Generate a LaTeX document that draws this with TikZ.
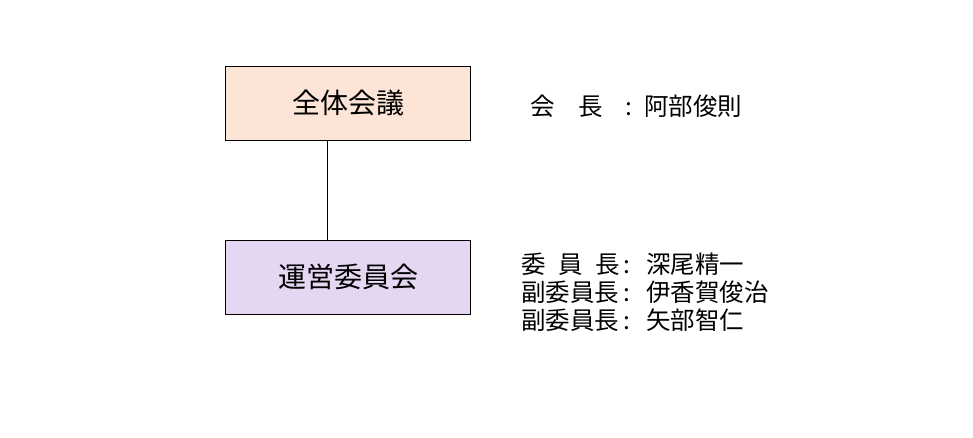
\documentclass[tikz,border=0pt]{standalone}
\usepackage{fontspec}
\setmainfont{Noto Sans CJK JP}
\usepackage{tikz}
\usetikzlibrary{positioning}
\definecolor{peach}{HTML}{FCE4D6}
\definecolor{lavender}{HTML}{E5D6F2}
\tikzset{
  unit/.style={draw, thin, minimum width=245pt, minimum height=74pt, inner sep=0pt, font=\fontsize{28}{30}\selectfont},
  member/.style={anchor=base west, inner sep=0pt, font=\fontsize{24.5}{28}\selectfont},
}

\begin{document}
\begin{tikzpicture}[x=1pt, y=-1pt]
\useasboundingbox (0,0) rectangle (973,437);
\node[unit, fill=peach] (plenary) at (348,103) {全体会議};
\node[unit, fill=lavender] (board) at (348,277) {運営委員会};
\draw[thin] (plenary.south -| 327,0) -- (board.north -| 327,0);

\node[member] (chair) at (530,115) {\makebox[73pt][s]{会\hfill 長}};
\node[member] (chaircol) at (625,115) {:};
\node[member] (chairname) at (644,115) {阿部俊則};

\node[member] (head) at (521,273) {\makebox[99pt][s]{委\hfill 員\hfill 長}};
\node[member] (vice1) at (521,301) {副委員長};
\node[member] (vice2) at (521,329) {副委員長};
\node[member] (headcol) at (623,273) {:};
\node[member] (vice1col) at (623,301) {:};
\node[member] (vice2col) at (623,329) {:};
\node[member] (headname) at (646,273) {深尾精一};
\node[member] (vice1name) at (646,301) {伊香賀俊治};
\node[member] (vice2name) at (646,329) {矢部智仁};
\end{tikzpicture}
\end{document}
